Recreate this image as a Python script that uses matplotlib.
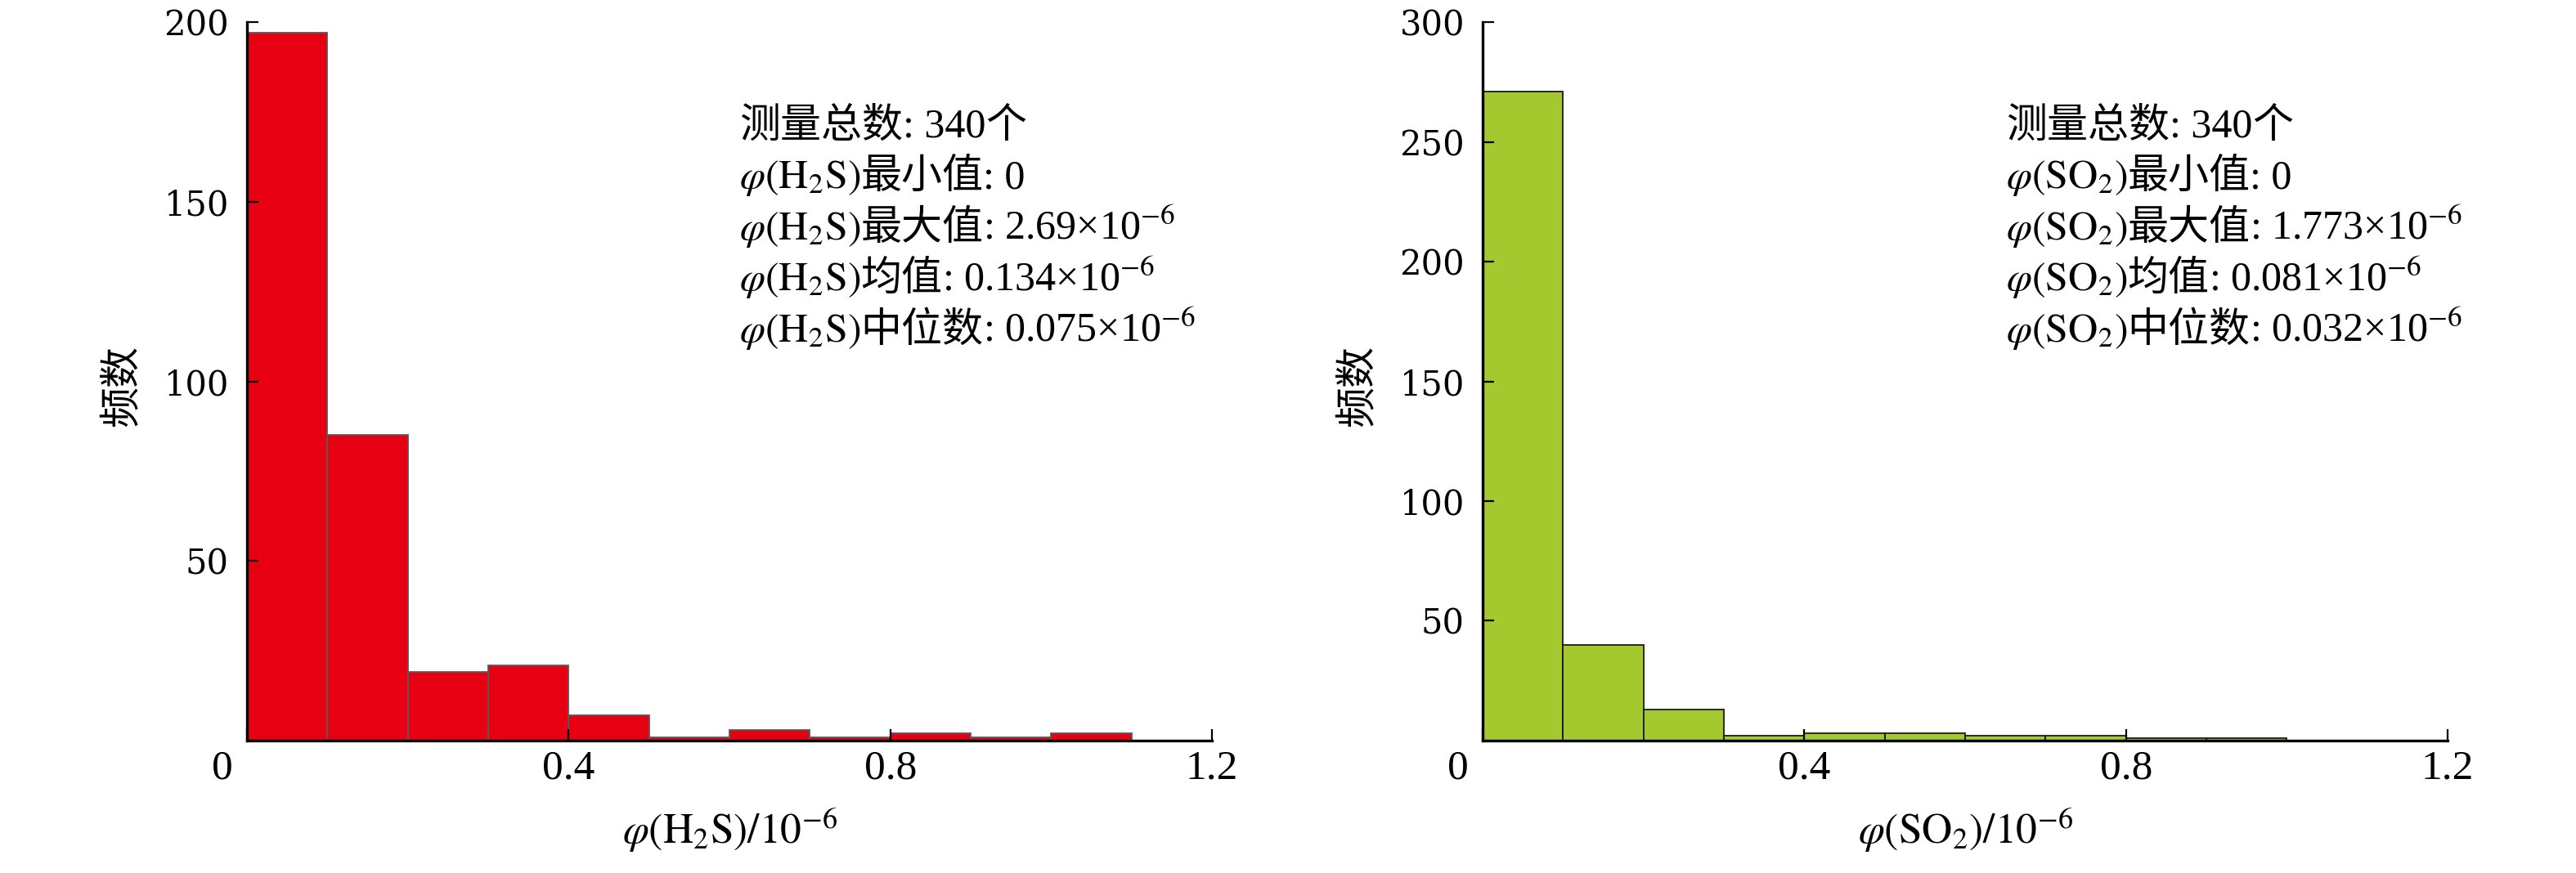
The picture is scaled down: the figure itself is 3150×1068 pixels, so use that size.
import matplotlib
matplotlib.use("Agg")
import matplotlib.pyplot as plt
import matplotlib.transforms as mtransforms

plt.rcParams['mathtext.fontset'] = 'stix'
plt.rcParams['font.family'] = ['Liberation Serif', 'Noto Sans CJK SC']

# histogram data
bin_edges = [0.0, 0.1, 0.2, 0.3, 0.4, 0.5, 0.6, 0.7, 0.8, 0.9, 1.0, 1.1]
h2s_counts = [197, 85, 19, 21, 7, 1, 3, 1, 2, 1, 2]
so2_counts = [271, 40, 13, 2, 3, 3, 2, 2, 1, 1]

x_ticks = [0, 0.4, 0.8, 1.2]
x_tick_labels = ['0', '0.4', '0.8', '1.2']
h2s_y_ticks = [50, 100, 150, 200]
so2_y_ticks = [50, 100, 150, 200, 250, 300]

total_count = 340
stat_names = ['最小值', '最大值', '均值', '中位数']
h2s_stat_values = ['0', '2.69', '0.134', '0.075']
so2_stat_values = ['0', '1.773', '0.081', '0.032']

h2s_symbol = r'$\varphi(\mathrm{H_2S})$'
so2_symbol = r'$\varphi(\mathrm{SO_2})$'

red = '#E60012'
green = '#A4C92E'
FS = 36


def stat_line(ax, x, y, pieces):
    """Draw one line made of serif / CJK pieces, advancing x by measured widths."""
    fig = ax.figure
    renderer = fig.canvas.get_renderer()
    dx = 0.0
    for s, cjk in pieces:
        family = ['Noto Sans CJK SC'] if cjk else ['Liberation Serif']
        tr = ax.transAxes + mtransforms.ScaledTranslation(dx, 0, fig.dpi_scale_trans)
        t = ax.text(x, y, s, transform=tr, fontsize=FS, family=family,
                    va='baseline', ha='left')
        dx += t.get_window_extent(renderer).width / fig.dpi


def build_lines(symbol, values):
    lines = [[('测量总数', True), (': %d' % total_count, False), ('个', True)]]
    for name, v in zip(stat_names, values):
        val = ': ' + v if v == '0' else ': ' + v + r'×10$^{-6}$'
        lines.append([(symbol, False), (name, True), (val, False)])
    return lines


def draw_panel(ax, counts, color, edge, y_ticks, ymax, symbol, values, tx):
    fig = ax.figure
    widths = [bin_edges[i + 1] - bin_edges[i] for i in range(len(counts))]
    ax.bar(bin_edges[:len(counts)], counts, width=widths, align='edge',
           color=color, edgecolor=edge, linewidth=1.3)

    ax.set_xlim(0, 1.2)
    ax.set_ylim(0, ymax)
    ax.set_xticks(x_ticks, x_tick_labels)
    ax.set_yticks(y_ticks)

    for side in ['top', 'right']:
        ax.spines[side].set_visible(False)
    for side in ['left', 'bottom']:
        ax.spines[side].set_linewidth(2.4)

    ax.tick_params(axis='both', direction='in', length=10, width=1.6)
    ax.tick_params(axis='x', pad=8, labelsize=37)
    ax.tick_params(axis='y', pad=16, labelsize=30)
    for lab in ax.get_yticklabels():
        lab.set_family('DejaVu Serif')

    # shared "0" at the corner, shifted left of the origin
    lab0 = ax.get_xticklabels()[0]
    lab0.set_transform(lab0.get_transform() +
                       mtransforms.ScaledTranslation(-0.30, 0, fig.dpi_scale_trans))

    ax.set_ylabel('频数', fontsize=FS, family=['Noto Sans CJK SC'])
    ax.yaxis.set_label_coords(-0.108, 0.494)
    ax.set_xlabel(symbol[:-1] + r'/10^{-6}$', fontsize=37)
    ax.xaxis.set_label_coords(0.5, -0.092)

    y0 = 0.840
    step = 0.0711
    for i, pieces in enumerate(build_lines(symbol, values)):
        stat_line(ax, tx, y0 - i * step, pieces)


fig = plt.figure(figsize=(31.5, 10.68), dpi=100)
ax1 = fig.add_axes([0.0959, 0.1517, 0.3746, 0.823])
ax2 = fig.add_axes([0.5756, 0.1517, 0.3746, 0.823])

draw_panel(ax1, h2s_counts, red, '#5a5a5a', h2s_y_ticks, 200,
           h2s_symbol, h2s_stat_values, 0.510)
draw_panel(ax2, so2_counts, green, '#1a1a1a', so2_y_ticks, 300,
           so2_symbol, so2_stat_values, 0.542)

fig.savefig('out.png', dpi=100)
